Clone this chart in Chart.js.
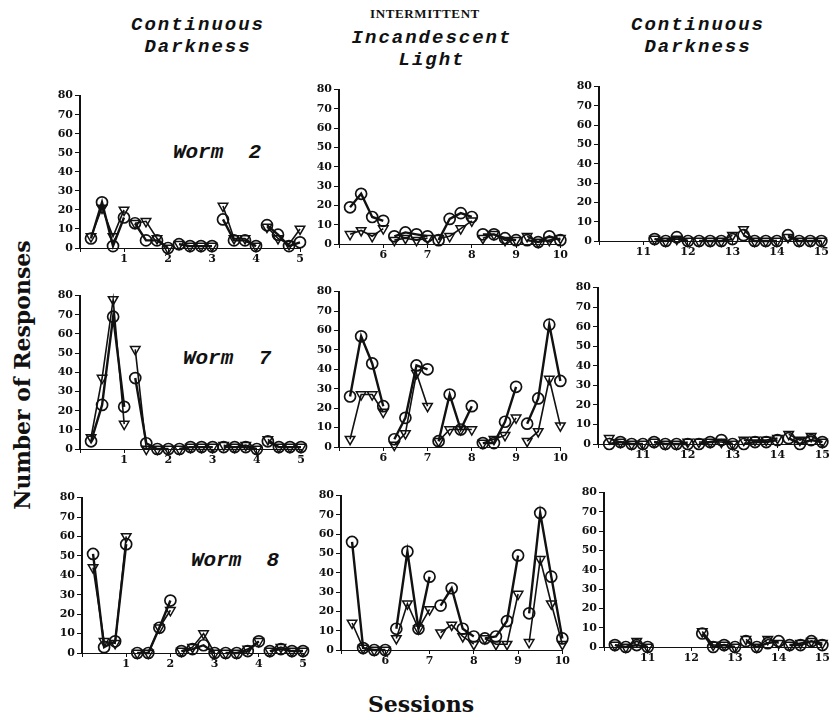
<!DOCTYPE html>
<html>
<head>
<meta charset="utf-8">
<script src="https://cdn.jsdelivr.net/npm/chart.js@4.4.1/dist/chart.umd.min.js"></script>
<style>
  body { margin: 0; background: #fff; }
  #page { position: relative; width: 832px; height: 720px; overflow: hidden; background: #fff; }
  #page canvas { position: absolute; }
  .lbl { position: absolute; color: #111; white-space: pre; transform: translate(-50%, -50%); }
  .head { font-family: "Liberation Mono", monospace; font-style: italic; font-weight: bold; font-size: 19px; letter-spacing: 2px; }
  .small { font-family: "Liberation Serif", serif; font-weight: bold; font-size: 13px; letter-spacing: 0.6px; }
  .worm { font-family: "Liberation Mono", monospace; font-style: italic; font-weight: bold; font-size: 21px; }
  .axisT { font-family: "DejaVu Serif", serif; font-weight: bold; font-size: 22px; }
</style>
</head>
<body>
<div id="page">
  <div class="lbl head" style="left:198px; top:25px;">Continuous</div>
  <div class="lbl head" style="left:198px; top:47px;">Darkness</div>
  <div class="lbl small" style="left:425px; top:14px;">INTERMITTENT</div>
  <div class="lbl head" style="left:432px; top:38px;">Incandescent</div>
  <div class="lbl head" style="left:432px; top:60px;">Light</div>
  <div class="lbl head" style="left:698px; top:25px;">Continuous</div>
  <div class="lbl head" style="left:698px; top:47px;">Darkness</div>
  <div class="lbl worm" style="left:217px; top:152px;">Worm  2</div>
  <div class="lbl worm" style="left:227px; top:358px;">Worm  7</div>
  <div class="lbl worm" style="left:235px; top:560px;">Worm  8</div>
  <div class="lbl axisT" style="left:22px; top:375px; transform: translate(-50%, -50%) rotate(-90deg);">Number of Responses</div>
  <div class="lbl axisT" style="left:421px; top:704px;">Sessions</div>
</div>
<script>
// four measurements per session, at quarter steps
const quarters = [0.25, 0.5, 0.75, 1];
const yTicks = [0, 10, 20, 30, 40, 50, 60, 70, 80];

// Worm 2
const w2DarkA_circ = [5, 24, 1, 16, 13, 4, 4, 0, 2, 1, 1, 1, 15, 4, 4, 1, 12, 7, 1, 3];
const w2DarkA_tri = [6, 21, 6, 20, 13, 14, 5, 0, 2, 1, 1, 1, 22, 5, 5, 1, 11, 5, 2, 10];
const w2Light_circ = [19, 26, 14, 12, 4, 6, 5, 4, 2, 13, 16, 14, 5, 5, 3, 2, 2, 1, 4, 2];
const w2Light_tri = [5, 7, 4, 8, 2, 3, 2, 3, 3, 4, 8, 12, 3, 5, 2, 2, 4, 1, 2, 3];
const w2DarkB_circ = [null, null, null, null, 1, 0, 2, 0, 0, 0, 0, 1, 3, 0, 0, 0, 3, 0, 0, 0];
const w2DarkB_tri = [null, null, null, null, 1, 0, 1, 0, 0, 0, 0, 3, 6, 0, 0, 0, 2, 0, 0, 0];

// Worm 7
const w7DarkA_circ = [4, 23, 69, 22, 37, 3, 0, 0, 0, 1, 1, 1, 1, 1, 1, 0, 4, 1, 1, 1];
const w7DarkA_tri = [6, 37, 78, 13, 52, 0, 0, 0, 0, 1, 1, 1, 2, 1, 2, 0, 5, 1, 1, 1];
const w7Light_circ = [26, 57, 43, 21, 4, 15, 42, 40, 3, 27, 9, 21, 2, 2, 13, 31, 12, 25, 63, 34];
const w7Light_tri = [4, 27, 27, 18, 1, 7, 38, 21, 3, 9, 9, 9, 2, 4, 6, 15, 3, 8, 35, 11];
const w7DarkB_circ = [0, 1, 0, 0, 1, 0, 0, 0, 0, 1, 2, 0, 0, 1, 1, 2, 3, 0, 2, 1];
const w7DarkB_tri = [3, 1, 0, 0, 1, 0, 0, 1, 1, 1, 1, 0, 2, 2, 2, 3, 5, 2, 4, 1];

// Worm 8
const w8DarkA_circ = [51, 3, 6, 56, 0, 0, 13, 27, 1, 2, 4, 0, 0, 0, 1, 6, 1, 2, 1, 1];
const w8DarkA_tri = [44, 6, 5, 60, 0, 0, 13, 22, 1, 3, 10, 0, 0, 0, 2, 6, 1, 3, 1, 1];
const w8Light_circ = [56, 1, 0, 0, 11, 51, 11, 38, 23, 32, 11, 7, 6, 7, 15, 49, 19, 71, 38, 6];
const w8Light_tri = [14, 1, 0, 0, 6, 24, 11, 21, 9, 13, 7, 3, 6, 3, 3, 29, 4, 47, 24, 3];
const w8DarkB_circ = [1, 0, 1, 0, null, null, null, null, 7, 0, 1, 0, 3, 0, 2, 3, 1, 1, 3, 1];
const w8DarkB_tri = [1, 0, 3, 0, null, null, null, null, 8, 1, 1, 0, 4, 0, 4, 2, 1, 2, 3, 2];

// chart area of each panel on the page: left, top, right, bottom
const panels = [
    { box: [80, 95, 300, 248], start: 0, circ: w2DarkA_circ, tri: w2DarkA_tri },
    { box: [339, 89, 561, 244], start: 5, circ: w2Light_circ, tri: w2Light_tri },
    { box: [599, 86, 822, 241], start: 10, circ: w2DarkB_circ, tri: w2DarkB_tri },
    { box: [80, 295, 301, 449], start: 0, circ: w7DarkA_circ, tri: w7DarkA_tri },
    { box: [339, 291, 561, 447], start: 5, circ: w7Light_circ, tri: w7Light_tri },
    { box: [598, 287, 823, 444], start: 10, circ: w7DarkB_circ, tri: w7DarkB_tri },
    { box: [82, 497, 303, 653], start: 0, circ: w8DarkA_circ, tri: w8DarkA_tri },
    { box: [341, 495, 563, 650], start: 5, circ: w8Light_circ, tri: w8Light_tri },
    { box: [604, 492, 823, 647], start: 10, circ: w8DarkB_circ, tri: w8DarkB_tri }
];

// lines only join the points of one session
function build(vals, start) {
    const pts = [];
    vals.forEach((v, i) => {
        const x = start + Math.floor(i / 4) + quarters[i % 4];
        pts.push({ x: x, y: v });
        if (i % 4 === 3) pts.push({ x: x + 0.1, y: null });
    });
    return pts;
}

const tickFont = { family: "DejaVu Serif", weight: "bold", size: 11 };
const YW = 32, PADT = 8, PADR = 8, XH = 20;
const page = document.getElementById("page");

panels.forEach(p => {
    const [L, T, R, B] = p.box;
    const cv = document.createElement("canvas");
    const w = R - L + YW + PADR, h = B - T + PADT + XH;
    cv.width = w; cv.height = h;
    cv.style.left = (L - YW) + "px";
    cv.style.top = (T - PADT) + "px";
    cv.style.width = w + "px";
    cv.style.height = h + "px";
    page.appendChild(cv);

    new Chart(cv, {
        type: "line",
        data: {
            datasets: [{
                data: build(p.circ, p.start),
                borderColor: "#111",
                borderWidth: 2.4,
                pointStyle: "circle",
                pointRadius: 5.5,
                pointBorderWidth: 1.7,
                pointBackgroundColor: "rgba(255,255,255,0)",
                pointBorderColor: "#111",
                spanGaps: false,
                clip: false
            }, {
                data: build(p.tri, p.start),
                borderColor: "#111",
                borderWidth: 1.6,
                pointStyle: "triangle",
                rotation: 180,
                pointRadius: 5.5,
                pointBorderWidth: 1.5,
                pointBackgroundColor: "rgba(255,255,255,0)",
                pointBorderColor: "#111",
                spanGaps: false,
                clip: false
            }]
        },
        options: {
            responsive: false,
            animation: false,
            devicePixelRatio: 1,
            layout: { padding: { top: PADT, right: PADR, left: 0, bottom: 0 } },
            plugins: {
                legend: { display: false },
                tooltip: { enabled: false }
            },
            scales: {
                x: {
                    type: "linear",
                    min: p.start,
                    max: p.start + 5,
                    afterFit: s => { s.height = XH; },
                    ticks: {
                        stepSize: 1,
                        color: "#111",
                        font: tickFont,
                        padding: 1,
                        maxRotation: 0,
                        callback: v => (v === p.start ? "" : v)
                    },
                    grid: { drawOnChartArea: false, color: "#111", tickLength: 4 },
                    border: { color: "#111", width: 1 }
                },
                y: {
                    min: 0,
                    max: 80,
                    afterFit: s => { s.width = YW; },
                    afterBuildTicks: s => { s.ticks = yTicks.map(v => ({ value: v })); },
                    ticks: { color: "#111", font: tickFont, padding: 2 },
                    grid: { drawOnChartArea: false, color: "#111", tickLength: 5 },
                    border: { color: "#111", width: 2 }
                }
            }
        }
    });
});
</script>
</body>
</html>
